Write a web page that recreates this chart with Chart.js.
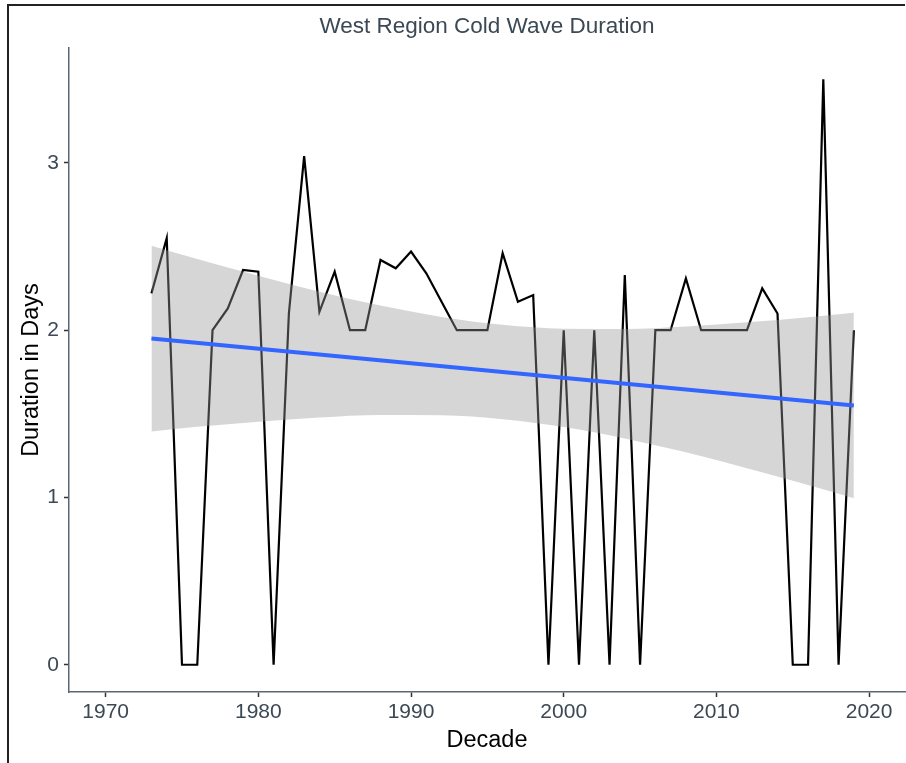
<!DOCTYPE html>
<html>
<head>
<meta charset="utf-8">
<script src="https://cdn.jsdelivr.net/npm/chart.js@4.4.1/dist/chart.umd.min.js"></script>
<style>
  html, body { margin: 0; padding: 0; background: #ffffff; }
  #wrap { width: 906px; height: 763px; }
</style>
</head>
<body>
<div id="wrap"><canvas id="chart" width="906" height="763"></canvas></div>
<script>
// yearly cold wave duration
const years = [
  1973, 1974, 1975, 1976, 1977, 1978, 1979, 1980, 1981, 1982,
  1983, 1984, 1985, 1986, 1987, 1988, 1989, 1990, 1991, 1992,
  1993, 1994, 1995, 1996, 1997, 1998, 1999, 2000, 2001, 2002,
  2003, 2004, 2005, 2006, 2007, 2008, 2009, 2010, 2011, 2012,
  2013, 2014, 2015, 2016, 2017, 2018, 2019
];
const duration = [
  2.22, 2.55, 0, 0, 2.0, 2.13, 2.36, 2.35, 0, 2.1,
  3.04, 2.11, 2.35, 2.0, 2.0, 2.42, 2.37, 2.47, 2.34, 2.17,
  2.0, 2.0, 2.0, 2.46, 2.17, 2.21, 0, 2.0, 0, 2.0,
  0, 2.33, 0, 2.0, 2.0, 2.31, 2.0, 2.0, 2.0, 2.0,
  2.25, 2.1, 0, 0, 3.5, 0, 2.0
];

// trend line ends
const fitYears = [1973, 2019];
const fitValues = [1.95, 1.55];

// confidence band edges
const bandYears = [1973, 1976, 1980, 1984, 1988, 1992, 1996, 2000, 2004, 2008, 2012, 2016, 2019];
const bandUpper = [2.505, 2.426, 2.325, 2.230, 2.147, 2.079, 2.032, 2.009, 2.007, 2.022, 2.047, 2.078, 2.105];
const bandLower = [1.395, 1.422, 1.453, 1.478, 1.493, 1.491, 1.468, 1.421, 1.353, 1.270, 1.175, 1.074, 0.995];

const xTicks = [1970, 1980, 1990, 2000, 2010, 2020];
const yTicks = [0, 1, 2, 3];

const chartTitle = 'West Region Cold Wave Duration';
const xTitle = 'Decade';
const yTitle = 'Duration in Days';

const FONT = '"Liberation Sans", Arial, Helvetica, sans-serif';
const TEXT_GREY = '#3c4955';
const AXIS_GREY = '#5b6873';

const toPoints = (xs, ys) => xs.map((x, i) => ({ x: x, y: ys[i] }));

// title and outer frame drawn after the chart
const framePlugin = {
  id: 'framePlugin',
  afterDraw(chart) {
    const ctx = chart.ctx;
    const area = chart.chartArea;
    ctx.save();
    ctx.strokeStyle = '#222222';
    ctx.lineWidth = 2;
    ctx.beginPath();
    ctx.moveTo(8, 763);
    ctx.lineTo(8, 5);
    ctx.lineTo(905, 5);
    ctx.stroke();

    ctx.fillStyle = TEXT_GREY;
    ctx.font = '22.5px ' + FONT;
    ctx.textAlign = 'center';
    ctx.textBaseline = 'alphabetic';
    ctx.fillText(chartTitle, (area.left + area.right) / 2, 33);
    ctx.restore();
  }
};

const keepTicks = list => scale => {
  scale.ticks = list.map(v => ({ value: v }));
};

new Chart(document.getElementById('chart').getContext('2d'), {
  type: 'line',
  data: {
    datasets: [
      {
        label: 'trend',
        data: toPoints(fitYears, fitValues),
        borderColor: '#3366ff',
        borderWidth: 4,
        pointRadius: 0,
        fill: false,
        order: 0
      },
      {
        label: 'upper',
        data: toPoints(bandYears, bandUpper),
        borderWidth: 0,
        borderColor: 'rgba(0,0,0,0)',
        backgroundColor: 'rgba(153,153,153,0.4)',
        pointRadius: 0,
        cubicInterpolationMode: 'monotone',
        fill: '+1',
        order: 1
      },
      {
        label: 'lower',
        data: toPoints(bandYears, bandLower),
        borderWidth: 0,
        borderColor: 'rgba(0,0,0,0)',
        pointRadius: 0,
        cubicInterpolationMode: 'monotone',
        fill: false,
        order: 2
      },
      {
        label: 'duration',
        data: toPoints(years, duration),
        borderColor: '#000000',
        borderWidth: 2.2,
        pointRadius: 0,
        tension: 0,
        fill: false,
        order: 3
      }
    ]
  },
  options: {
    responsive: false,
    animation: false,
    devicePixelRatio: 1,
    layout: { padding: { top: 48, right: 1, left: 0, bottom: 0 } },
    plugins: {
      legend: { display: false },
      tooltip: { enabled: false },
      title: { display: false }
    },
    scales: {
      x: {
        type: 'linear',
        min: 1967.6,
        max: 2022.35,
        afterBuildTicks: keepTicks(xTicks),
        afterFit: s => { s.height = 71; },
        grid: {
          drawOnChartArea: false,
          drawTicks: true,
          tickLength: 5,
          tickColor: '#333333',
          tickWidth: 1.5
        },
        border: { display: true, color: AXIS_GREY, width: 1.5 },
        ticks: {
          padding: 3,
          color: TEXT_GREY,
          font: { family: FONT, size: 21 },
          maxRotation: 0,
          callback: v => String(v)
        },
        title: {
          display: true,
          text: xTitle,
          color: '#000000',
          font: { family: FONT, size: 23.5 },
          padding: { top: 0, bottom: 8 }
        }
      },
      y: {
        type: 'linear',
        min: -0.163,
        max: 3.687,
        afterBuildTicks: keepTicks(yTicks),
        afterFit: s => { s.width = 69; },
        grid: {
          drawOnChartArea: false,
          drawTicks: true,
          tickLength: 5,
          tickColor: '#333333',
          tickWidth: 1.5
        },
        border: { display: true, color: AXIS_GREY, width: 1.5 },
        ticks: {
          padding: 5,
          color: TEXT_GREY,
          font: { family: FONT, size: 21 },
          callback: v => String(v)
        },
        title: {
          display: true,
          text: yTitle,
          color: '#000000',
          font: { family: FONT, size: 23.5 },
          padding: { top: 17, bottom: 0 }
        }
      }
    }
  },
  plugins: [framePlugin]
});
</script>
</body>
</html>
